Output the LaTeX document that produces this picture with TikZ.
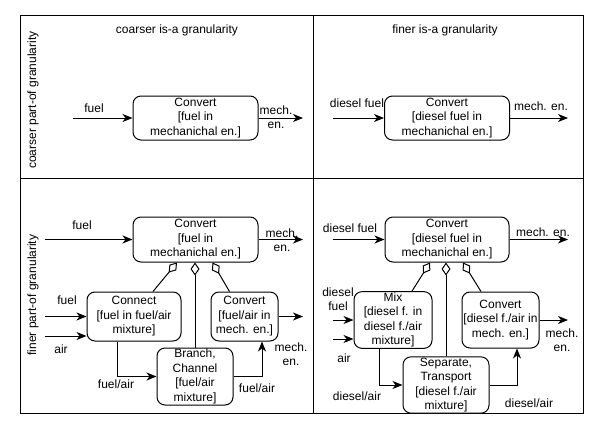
\documentclass[tikz,border=0pt]{standalone}
\usepackage{fontspec}
\setsansfont{Liberation Sans}
\tikzset{every picture/.style={/utils/exec={\sffamily}}}
\usetikzlibrary{positioning}
\usetikzlibrary{arrows.meta}
\tikzset{
  func/.style={draw, rounded corners=8pt, align=center, inner sep=1pt, fill=white},
  flow/.style={-{Stealth[length=10pt,width=8pt,inset=3pt]}},
  part/.style={-{Diamond[open,length=13pt,width=9pt]}},
  lbl/.style={align=center, inner sep=0pt},
}
\begin{document}
\begin{tikzpicture}[x=1pt, y=-1pt, line width=1pt, font=\fontsize{12}{14.5}\selectfont]
  \useasboundingbox (0,0) rectangle (614,431);
  \draw (20,15) rectangle (583,413);
  \draw (313,15) -- (313,413);
  \draw (20,178) -- (583,178);

  \node[lbl] (isacoarse) at (177,30) {coarser is-a granularity};
  \node[lbl] (isafine) at (445,30) {finer is-a granularity};
  \node[lbl, rotate=90] (partcoarse) at (33,100) {coarser part-of granularity};
  \node[lbl, rotate=90] (partfine) at (33,295) {finer part-of granularity};

  % coarse / coarse
  \node[func, minimum width=125pt, minimum height=44pt] (cvA) at (195.5,118) {Convert\\{}[fuel in\\mechanichal en.]};
  \coordinate (inA) at (73,118);
  \coordinate (outA) at (303,118);
  \draw[flow] (inA) -- (cvA);
  \draw[flow] (cvA) -- (outA);
  \node[lbl] (fuelA) at (94,108) {fuel};
  \node[lbl] (mechA) at (276,117) {mech.\\en.};

  % coarse part-of / fine is-a
  \node[lbl] (fuelB) at (357,103) {diesel fuel};
  \node[func, minimum width=125pt, minimum height=44pt] (cvB) at (447,118) {Convert\\{}[diesel fuel in\\mechanichal en.]};
  \coordinate (inB) at (333,118);
  \coordinate (outB) at (568,118);
  \draw[flow] (inB) -- (cvB);
  \draw[flow] (cvB) -- (outB);
  \node[lbl] (mechB) at (541,106) {mech. en.};

  % fine part-of / coarse is-a
  \node[func, minimum width=125pt, minimum height=45pt] (cvC) at (195.5,239.5) {Convert\\{}[fuel in\\mechanichal en.]};
  \node[func, minimum width=94pt, minimum height=49pt] (conn) at (134,316.5) {Connect\\{}[fuel in fuel/air\\mixture]};
  \node[func, minimum width=67pt, minimum height=49pt] (cvCm) at (244.5,316.5) {Convert\\{}[fuel/air in\\mech. en.]};
  \node[func, minimum width=76pt, minimum height=57pt] (branch) at (195,376.5) {Branch,\\Channel\\{}[fuel/air\\mixture]};
  \coordinate (inC) at (45,239.5);
  \coordinate (outC) at (303,239.5);
  \coordinate (fuelinC) at (45,316.5);
  \coordinate (airinC) at (45,336);
  \coordinate (outCm) at (303,316.5);
  \draw[flow] (inC) -- (cvC);
  \draw[flow] (cvC) -- (outC);
  \draw[flow] (fuelinC) -- (conn);
  \draw[flow] (airinC) -- (airinC -| conn.west);
  \draw[flow] (cvCm) -- (outCm);
  \draw[flow] ([xshift=-17pt]conn.south) |- (branch);
  \draw[flow] (branch) -| ([xshift=17.5pt]cvCm.south);
  \draw[part] ([xshift=19pt]conn.north) -- ([xshift=-18.5pt]cvC.south);
  \draw[part] (branch.north) -- (branch.north |- cvC.south);
  \draw[part] ([xshift=-15pt]cvCm.north) -- ([xshift=17pt]cvC.south);
  \node[lbl] (fuelC) at (82,225) {fuel};
  \node[lbl] (mechC) at (282,240) {mech.\\en.};
  \node[lbl] (fuelCm) at (67,300) {fuel};
  \node[lbl] (airC) at (61,349) {air};
  \node[lbl] (mechCm) at (291,354) {mech.\\en.};
  \node[lbl] (mixC) at (116,384) {fuel/air};
  \node[lbl] (mixCb) at (257,388) {fuel/air};

  % fine / fine
  \node[func, minimum width=124pt, minimum height=45pt] (cvD) at (447,239.5) {Convert\\{}[diesel fuel in\\mechanichal en.]};
  \node[func, minimum width=78pt, minimum height=56pt] (mix) at (393,320) {Mix\\{}[diesel f. in\\diesel f./air\\mixture]};
  \node[func, minimum width=77pt, minimum height=56pt] (cvDm) at (500.5,320) {Convert\\{}[diesel f./air in\\mech. en.]};
  \node[func, minimum width=86pt, minimum height=56pt] (sep) at (446,385) {Separate,\\Transport\\{}[diesel f./air\\mixture]};
  \coordinate (inD) at (333,239.5);
  \coordinate (outD) at (568,239.5);
  \coordinate (fuelinD) at (333,320);
  \coordinate (airinD) at (333,339);
  \coordinate (outDm) at (568,320);
  \draw[flow] (inD) -- (cvD);
  \draw[flow] (cvD) -- (outD);
  \draw[flow] (fuelinD) -- (mix);
  \draw[flow] (airinD) -- (airinD -| mix.west);
  \draw[flow] (cvDm) -- (outDm);
  \draw[flow] ([xshift=-14pt]mix.south) |- (sep);
  \draw[flow] (sep) -| ([xshift=16.5pt]cvDm.south);
  \draw[part] ([xshift=19pt]mix.north) -- ([xshift=-17pt]cvD.south);
  \draw[part] (sep.north) -- (sep.north |- cvD.south);
  \draw[part] ([xshift=-19.5pt]cvDm.north) -- ([xshift=16pt]cvD.south);
  \node[lbl] (fuelD) at (350,228) {diesel fuel};
  \node[lbl] (mechD) at (543,232) {mech. en.};
  \node[lbl] (fuelDm) at (338,299) {diesel\\fuel};
  \node[lbl] (airD) at (344,358) {air};
  \node[lbl] (mechDm) at (562,340) {mech.\\en.};
  \node[lbl] (mixD) at (357,396) {diesel/air};
  \node[lbl] (mixDb) at (529,403) {diesel/air};
\end{tikzpicture}
\end{document}
